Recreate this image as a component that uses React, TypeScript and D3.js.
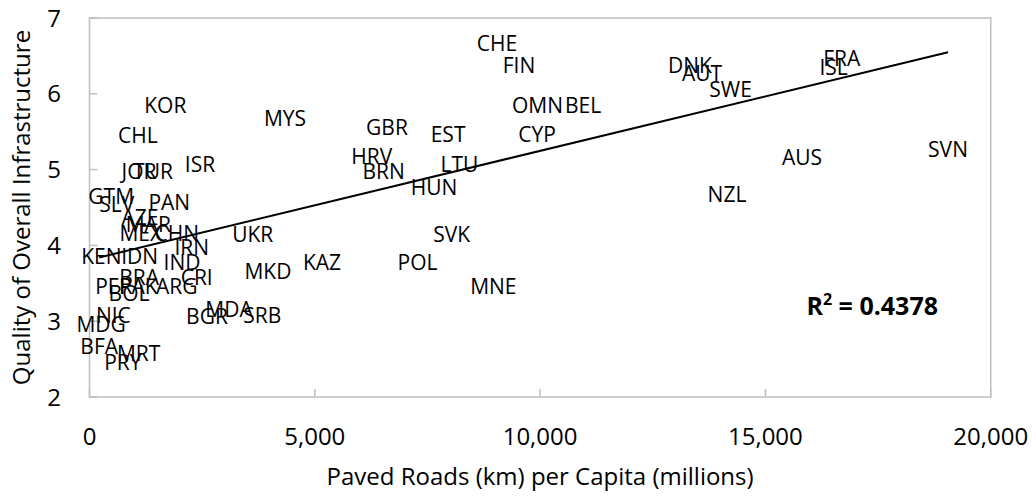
import React from "react";
import * as d3 from "d3";

const countries = [
  "CHE","FIN","OMN","BEL","CYP","EST","LTU","HUN","MYS","GBR",
  "HRV","BRN","UKR","SVK","KAZ","POL","MKD","MNE","SRB","MDA",
  "BGR","DNK","AUT","SWE","FRA","ISL","AUS","SVN","NZL","KOR",
  "CHL","ISR","JOR","TUR","GTM","SLV","PAN","AZE","MAR","MEX",
  "CHN","IRN","KEN","IDN","IND","MDG","NIC","BFA","PRY","MRT",
  "PER","PAK","BRA","ARG","CRI","BOL",
];
const pavedRoads = [
  9044, 9532, 9942, 10952, 9931, 7958, 8211, 7645, 4339, 6602,
  6263, 6529, 3622, 8038, 5160, 7279, 3961, 8962, 3836, 3096,
  2608, 13327, 13593, 14226, 16693, 16515, 15813, 19053, 14148, 1683,
  1072, 2452, 1099, 1410, 481, 603, 1771, 1121, 1305, 1139,
  1935, 2268, 262, 1114, 2053, 259, 529, 215, 739, 1092,
  540, 1083, 1102, 1935, 2379, 877,
];
const infraQuality = [
  6.66, 6.37, 5.85, 5.85, 5.46, 5.46, 5.07, 4.76, 5.67, 5.56,
  5.17, 4.97, 4.15, 4.15, 3.77, 3.77, 3.66, 3.46, 3.07, 3.15,
  3.06, 6.37, 6.27, 6.06, 6.47, 6.35, 5.16, 5.26, 4.67, 5.84,
  5.45, 5.07, 4.97, 4.97, 4.65, 4.54, 4.56, 4.37, 4.28, 4.16,
  4.16, 3.97, 3.86, 3.86, 3.77, 2.95, 3.07, 2.66, 2.46, 2.57,
  3.46, 3.46, 3.57, 3.46, 3.57, 3.36,
];
const xTicks = [0, 5000, 10000, 15000, 20000];
const yTicks = [2, 3, 4, 5, 6, 7];
const trendSlope = 0.0001437;
const trendIntercept = 3.81;
const rSquaredText = "0.4378";
const xTitle = "Paved Roads (km) per Capita (millions)";
const yTitle = "Quality of Overall Infrastructure";

const FONT = "'Open Sans', 'Noto Sans', sans-serif";

export default function App() {
  const W = 1033, H = 496;
  const left = 89.5, right = 990.7, top = 18, bottom = 397;
  const x = d3.scaleLinear().domain([0, 20000]).range([left, right]);
  const y = d3.scaleLinear().domain([2, 7]).range([bottom, top]);
  const fmt = d3.format(",");
  const xMin = d3.min(pavedRoads) as number;
  const xMax = d3.max(pavedRoads) as number;
  const trendPts: [number, number][] = [
    [xMin, trendIntercept + trendSlope * xMin],
    [xMax, trendIntercept + trendSlope * xMax],
  ];
  const line = d3.line<[number, number]>().x((d) => x(d[0])).y((d) => y(d[1]));
  const labelSize = 21;
  return (
    <svg
      width={W}
      height={H}
      style={{ position: "absolute", left: 0, top: 0, background: "#fff" }}
      fontFamily={FONT}
    >
      <rect x={0} y={0} width={W} height={H} fill="#fff" />
      <rect
        x={left}
        y={top}
        width={right - left}
        height={bottom - top}
        fill="none"
        stroke="#bfbfbf"
        strokeWidth={1.5}
      />
      {yTicks.map((t) => (
        <g key={"y" + t}>
          <line x1={left} x2={left + 8} y1={y(t)} y2={y(t)} stroke="#bfbfbf" strokeWidth={1.5} />
          <text x={61} y={y(t) + 8.5} textAnchor="end" fontSize={24} fill="#000">
            {t}
          </text>
        </g>
      ))}
      {xTicks.map((t) => (
        <g key={"x" + t}>
          <line x1={x(t)} x2={x(t)} y1={bottom} y2={bottom - 8} stroke="#bfbfbf" strokeWidth={1.5} />
          <text x={x(t)} y={445} textAnchor="middle" fontSize={24} fill="#000">
            {fmt(t)}
          </text>
        </g>
      ))}
      <text x={(left + right) / 2} y={485} textAnchor="middle" fontSize={24} fill="#000">
        {xTitle}
      </text>
      <text
        transform={`translate(30,${(top + bottom) / 2}) rotate(-90)`}
        textAnchor="middle"
        fontSize={24}
        fill="#000"
      >
        {yTitle}
      </text>
      <path d={line(trendPts) || ""} fill="none" stroke="#000" strokeWidth={2} />
      {countries.map((c, i) => (
        <text
          key={c}
          x={x(pavedRoads[i])}
          y={y(infraQuality[i]) + labelSize * 0.357}
          textAnchor="middle"
          fontSize={labelSize}
          fill="#000"
        >
          {c}
        </text>
      ))}
      <text x={938} y={315} textAnchor="end" fontSize={25} fontWeight="bold" fill="#000">
        R<tspan fontSize={16} dy={-10}>2</tspan>
        <tspan dy={10}>{" = " + rSquaredText}</tspan>
      </text>
    </svg>
  );
}
